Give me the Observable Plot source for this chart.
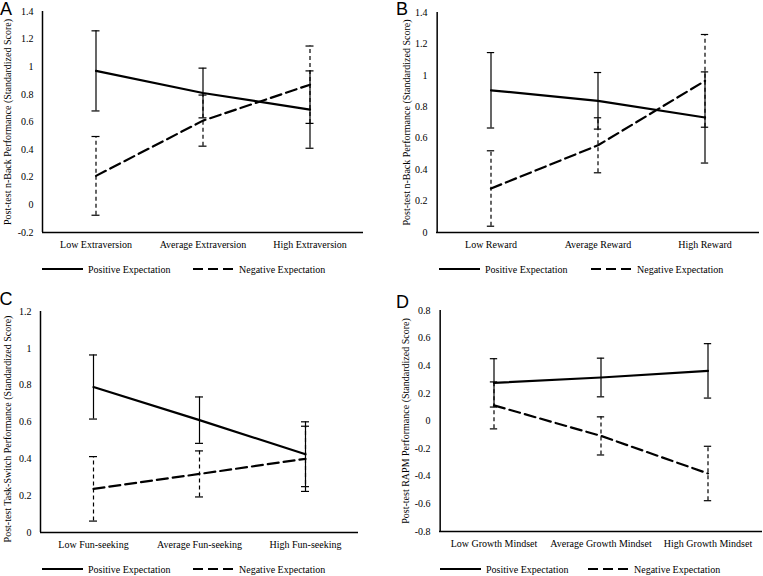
<!DOCTYPE html>
<html><head><meta charset="utf-8">
<script src="https://cdn.jsdelivr.net/npm/d3@7"></script>
<script src="https://cdn.jsdelivr.net/npm/@observablehq/plot@0.6"></script>
<style>
body{margin:0;background:#fff;}
#root{position:relative;width:763px;height:576px;overflow:hidden;background:#fff;font-family:"Liberation Serif","Times New Roman",serif;color:#000;}
.panel{position:absolute;}
.panel svg{overflow:visible;}
.letter{position:absolute;font-family:"Liberation Sans",Arial,sans-serif;font-size:18px;line-height:1;}
.leg{position:absolute;font-size:10px;display:flex;align-items:center;height:12px;white-space:nowrap;}
.leg svg{margin-right:5px;}
</style></head>
<body><div id="root"></div>
<script>
// ---- Data ----
const seriesNames = ["Positive Expectation", "Negative Expectation"];

const categoriesA = ["Low Extraversion", "Average Extraversion", "High Extraversion"];
const posA = [0.97, 0.81, 0.69];
const posErrA = [0.29, 0.18, 0.28];
const negA = [0.21, 0.61, 0.87];
const negErrA = [0.285, 0.185, 0.28];
const ticksA = [-0.2, 0, 0.2, 0.4, 0.6, 0.8, 1, 1.2, 1.4];
const titleA = "Post-test n-Back Performance (Standardized Score)";

const categoriesB = ["Low Reward", "Average Reward", "High Reward"];
const posB = [0.905, 0.838, 0.732];
const posErrB = [0.24, 0.18, 0.29];
const negB = [0.28, 0.555, 0.965];
const negErrB = [0.24, 0.175, 0.295];
const ticksB = [0, 0.2, 0.4, 0.6, 0.8, 1, 1.2, 1.4];
const titleB = "Post-test n-Back Performance (Standardized Score)";

const categoriesC = ["Low Fun-seeking", "Average Fun-seeking", "High Fun-seeking"];
const posC = [0.79, 0.61, 0.425];
const posErrC = [0.174, 0.126, 0.176];
const negC = [0.237, 0.318, 0.40];
const negErrC = [0.175, 0.125, 0.177];
const ticksC = [0, 0.2, 0.4, 0.6, 0.8, 1, 1.2];
const titleC = "Post-test Task-Switch Performance (Standardized Score)";

const categoriesD = ["Low Growth Mindset", "Average Growth Mindset", "High Growth Mindset"];
const posD = [0.276, 0.315, 0.363];
const posErrD = [0.175, 0.14, 0.197];
const negD = [0.113, -0.108, -0.38];
const negErrD = [0.17, 0.138, 0.197];
const ticksD = [-0.8, -0.6, -0.4, -0.2, 0, 0.2, 0.4, 0.6, 0.8];
const titleD = "Post-test RAPM Performance (Standardized Score)";

// ---- Layout ----
const panels = [
  {letter: "A", cats: categoriesA, pos: posA, posErr: posErrA, neg: negA, negErr: negErrA, ticks: ticksA, title: titleA,
   left: 0, top: 0, width: 380, height: 256, mL: 42, mR: 17, mT: 11, mB: 24, titleDx: -35, titleDy: 0,
   letterX: 0, letterY: 0, legY: 263, legX: [42, 193]},
  {letter: "B", cats: categoriesB, pos: posB, posErr: posErrB, neg: negB, negErr: negErrB, ticks: ticksB, title: titleB,
   left: 380, top: 0, width: 383, height: 256, mL: 56, mR: 4, mT: 12, mB: 24, titleDx: -30, titleDy: 0,
   letterX: 396, letterY: 0, legY: 263, legX: [439, 591]},
  {letter: "C", cats: categoriesC, pos: posC, posErr: posErrC, neg: negC, negErr: negErrC, ticks: ticksC, title: titleC,
   left: 0, top: 290, width: 380, height: 262, mL: 40, mR: 22, mT: 21, mB: 20, titleDx: -32.5, titleDy: 7,
   letterX: -0.5, letterY: 290, legY: 563, legX: [42, 193]},
  {letter: "D", cats: categoriesD, pos: posD, posErr: posErrD, neg: negD, negErr: negErrD, ticks: ticksD, title: titleD,
   left: 380, top: 290, width: 383, height: 262, mL: 59, mR: 1, mT: 20, mB: 21, titleDx: -33.5, titleDy: 0,
   letterX: 396, letterY: 293, legY: 563, legX: [440, 588]}
];

const root = document.getElementById("root");
const fmt = d => String(Math.round(d * 10) / 10);

function lineSample(dash) {
  const ns = "http://www.w3.org/2000/svg";
  const s = document.createElementNS(ns, "svg");
  s.setAttribute("width", 41); s.setAttribute("height", 4);
  const l = document.createElementNS(ns, "line");
  l.setAttribute("x1", 0); l.setAttribute("x2", 41); l.setAttribute("y1", 2); l.setAttribute("y2", 2);
  l.setAttribute("stroke", "#000"); l.setAttribute("stroke-width", 2);
  if (dash) l.setAttribute("stroke-dasharray", dash);
  s.appendChild(l);
  return s;
}

for (const p of panels) {
  const rowsPos = p.cats.map((c, i) => ({cat: c, v: p.pos[i], e: p.posErr[i]}));
  const rowsNeg = p.cats.map((c, i) => ({cat: c, v: p.neg[i], e: p.negErr[i]}));
  const bw = (p.width - p.mL - p.mR) / p.cats.length;
  const inset = (bw - 8) / 2;
  const lo = p.ticks[0], hi = p.ticks[p.ticks.length - 1];
  const chart = Plot.plot({
    width: p.width, height: p.height,
    marginLeft: p.mL, marginRight: p.mR, marginTop: p.mT, marginBottom: p.mB,
    style: {fontFamily: '"Liberation Serif","Times New Roman",serif', fontSize: "10px", color: "#000", background: "transparent"},
    x: {type: "band", domain: p.cats, padding: 0, label: null, tickSize: 0, tickPadding: 8},
    y: {domain: [lo, hi], ticks: p.ticks, tickFormat: fmt, tickSize: 0, tickPadding: 9, label: null},
    marks: [
      Plot.ruleY([lo], {stroke: "#000", strokeWidth: 1.5}),
      Plot.ruleX([p.cats[0]], {y1: lo, y2: hi, dx: -bw / 2, stroke: "#000", strokeWidth: 1.5}),
      Plot.ruleX(rowsNeg, {x: "cat", y1: d => d.v - d.e, y2: d => d.v + d.e, stroke: "#000", strokeWidth: 1.2, strokeDasharray: "4,3"}),
      Plot.tickY(rowsNeg, {x: "cat", y: d => d.v + d.e, insetLeft: inset, insetRight: inset, stroke: "#000", strokeWidth: 1.2}),
      Plot.tickY(rowsNeg, {x: "cat", y: d => d.v - d.e, insetLeft: inset, insetRight: inset, stroke: "#000", strokeWidth: 1.2}),
      Plot.ruleX(rowsPos, {x: "cat", y1: d => d.v - d.e, y2: d => d.v + d.e, stroke: "#000", strokeWidth: 1.2}),
      Plot.tickY(rowsPos, {x: "cat", y: d => d.v + d.e, insetLeft: inset, insetRight: inset, stroke: "#000", strokeWidth: 1.2}),
      Plot.tickY(rowsPos, {x: "cat", y: d => d.v - d.e, insetLeft: inset, insetRight: inset, stroke: "#000", strokeWidth: 1.2}),
      Plot.line(rowsNeg, {x: "cat", y: "v", stroke: "#000", strokeWidth: 2.2, strokeDasharray: "11,5"}),
      Plot.line(rowsPos, {x: "cat", y: "v", stroke: "#000", strokeWidth: 2.2}),
      Plot.text([p.title], {text: d => d, frameAnchor: "left", textAnchor: "middle", lineAnchor: "middle", rotate: -90, dx: p.titleDx, dy: p.titleDy, fontSize: 10, fill: "#000"})
    ]
  });
  const div = document.createElement("div");
  div.className = "panel";
  div.style.left = p.left + "px"; div.style.top = p.top + "px";
  div.appendChild(chart);
  root.appendChild(div);

  const let_ = document.createElement("div");
  let_.className = "letter";
  let_.style.left = p.letterX + "px"; let_.style.top = p.letterY + "px";
  let_.textContent = p.letter;
  root.appendChild(let_);

  seriesNames.forEach((name, k) => {
    const lg = document.createElement("div");
    lg.className = "leg";
    lg.style.left = p.legX[k] + "px"; lg.style.top = p.legY + "px";
    lg.appendChild(lineSample(k === 0 ? null : "10,5"));
    const t = document.createElement("span");
    t.textContent = name;
    lg.appendChild(t);
    root.appendChild(lg);
  });
}
</script>
</body></html>
